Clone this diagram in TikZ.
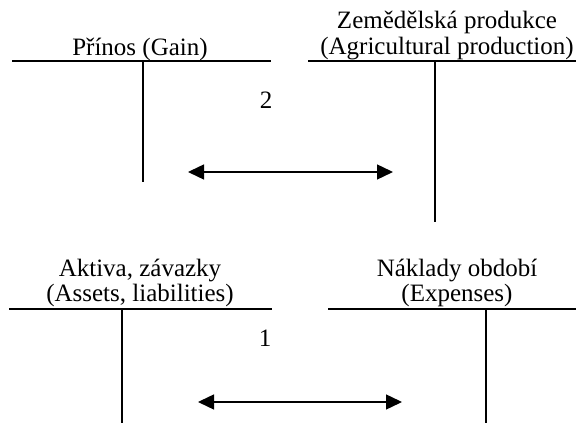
\documentclass[tikz,border=0pt]{standalone}
\usepackage{fontspec}
\setmainfont{Liberation Serif}
\usetikzlibrary{arrows.meta}
\begin{document}
\begin{tikzpicture}[x=1pt,y=1pt,
  tline/.style={line width=1.9pt},
  flow/.style={line width=1.4pt,{Triangle[length=16pt,width=15pt]}-{Triangle[length=16pt,width=15pt]}},
  lbl/.style={font=\fontsize{25}{26}\selectfont,inner sep=0pt,align=center,anchor=base},
  num/.style={font=\fontsize{25}{26}\selectfont,inner sep=0pt,anchor=base}]
\useasboundingbox (0,0) rectangle (576,423);
% coordinates
\coordinate (g1) at (12,362); \coordinate (g2) at (271,362);
\coordinate (gt) at (143,362); \coordinate (gb) at (143,241);
\coordinate (a1) at (308,362); \coordinate (a2) at (576,362);
\coordinate (at) at (435,362); \coordinate (ab) at (435,201);
\coordinate (l1) at (9,114); \coordinate (l2) at (272,114);
\coordinate (lt) at (122,114); \coordinate (lb) at (122,0);
\coordinate (e1) at (328,114); \coordinate (e2) at (576,114);
\coordinate (et) at (486,114); \coordinate (eb) at (486,0);
\coordinate (tA) at (188,251); \coordinate (tB) at (393,251);
\coordinate (bA) at (198,21); \coordinate (bB) at (402,21);
% labels
\node[lbl] (gain) at (140,367) {Přínos (Gain)};
\node[lbl] (agr1) at (447,394) {Zemědělská produkce};
\node[lbl] (agr2) at (447,368) {(Agricultural production)};
\node[lbl] (ass1) at (140,146) {Aktiva, závazky};
\node[lbl] (ass2) at (140,121) {(Assets, liabilities)};
\node[lbl] (exp1) at (457,146) {Náklady období};
\node[lbl] (exp2) at (457,121) {(Expenses)};
\node[num] (n2) at (266,314) {2};
\node[num] (n1) at (265,76) {1};
% T accounts
\draw[tline] (g1) -- (g2); \draw[tline] (gt) -- (gb);
\draw[tline] (a1) -- (a2); \draw[tline] (at) -- (ab);
\draw[tline] (l1) -- (l2); \draw[tline] (lt) -- (lb);
\draw[tline] (e1) -- (e2); \draw[tline] (et) -- (eb);
% arrows
\draw[flow] (tA) -- (tB);
\draw[flow] (bA) -- (bB);
\end{tikzpicture}
\end{document}
